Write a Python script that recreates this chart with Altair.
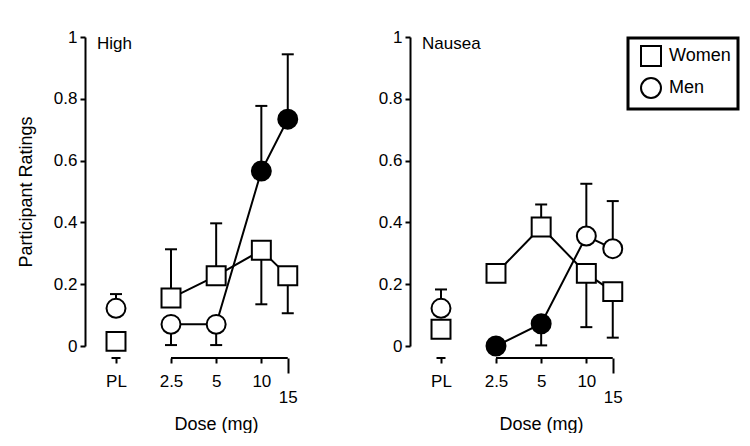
import altair as alt
import pandas as pd

FONT = "Liberation Sans"

# ---- data ----
dose_labels = ["PL", "2.5", "5", "10", "15"]
dose_pos = [1.075, 2.5, 5, 10, 15]          # PL drawn just left of the dose series
sexes = ["Women", "Men"]

high_women = [0.015, 0.155, 0.227, 0.31, 0.227]
high_women_err = [None, 0.313, 0.397, 0.135, 0.106]
high_women_sig = [False, False, False, False, False]
high_men = [0.122, 0.07, 0.07, 0.566, 0.734]
high_men_err = [0.168, 0.003, 0.003, 0.777, 0.944]
high_men_sig = [False, False, False, True, True]

nausea_women = [0.054, 0.235, 0.385, 0.235, 0.176]
nausea_women_err = [None, None, 0.458, 0.061, 0.027]
nausea_women_sig = [False, False, False, False, False]
nausea_men = [0.122, 0.0, 0.072, 0.356, 0.315]
nausea_men_err = [0.183, None, 0.002, 0.525, 0.469]
nausea_men_sig = [False, True, True, False, False]


def make_df(women, women_err, women_sig, men, men_err, men_sig):
    rows = []
    for sex, vals, errs, sigs in [("Women", women, women_err, women_sig),
                                  ("Men", men, men_err, men_sig)]:
        for lab, pos, v, e, s in zip(dose_labels, dose_pos, vals, errs, sigs):
            rows.append({"dose": pos, "label": lab, "sex": sex, "value": v,
                         "err": e, "sig": "sig" if s else "ns",
                         "segment": "PL" if lab == "PL" else "dose"})
    return pd.DataFrame(rows)


df_high = make_df(high_women, high_women_err, high_women_sig,
                  high_men, high_men_err, high_men_sig)
df_nausea = make_df(nausea_women, nausea_women_err, nausea_women_sig,
                    nausea_men, nausea_men_err, nausea_men_sig)

W, H = 215, 309
AX_OFF = 12

label_expr = " : ".join(f"datum.value == {p} ? '{l}'" for p, l in zip(dose_pos, dose_labels)) + " : ''"

xscale = alt.Scale(type="log", domain=[0.668, 18.1], nice=False)
yscale = alt.Scale(domain=[0, 1], nice=False, zero=False)


def panel(df, title, show_ytitle, show_legend):
    base = alt.Chart(df)
    x_axis = alt.Axis(
        values=dose_pos, labelExpr=label_expr, domain=False, offset=AX_OFF,
        grid=False, tickColor="black", tickWidth=2,
        tickSize={"condition": {"test": f"datum.value >= {dose_pos[-1]}", "value": 15}, "value": 5},
        labelPadding={"condition": {"test": f"datum.value >= {dose_pos[-1]}", "value": 16}, "value": 10},
        labelFont=FONT, labelFontSize=17, labelColor="black", labelFlush=False,
        labelOverlap=False,
        title="Dose (mg)", titleFont=FONT, titleFontSize=18, titleFontWeight="normal",
        titleColor="black", titleX=131, titlePadding=10)
    y_axis = alt.Axis(
        values=[0, 0.2, 0.4, 0.6, 0.8, 1], format="~g", grid=False,
        domainColor="black", domainWidth=2, tickColor="black", tickWidth=2, tickSize=5,
        labelFont=FONT, labelFontSize=17, labelColor="black", labelPadding=3,
        title="Participant Ratings" if show_ytitle else None,
        titleFont=FONT, titleFontSize=18, titleFontWeight="normal", titleColor="black",
        titlePadding=18)

    x = alt.X("dose:Q", scale=xscale, axis=x_axis)

    errs = base.transform_filter("isValid(datum.err)")
    err_bar = errs.mark_rule(color="black", strokeWidth=2).encode(
        x=x, y=alt.Y("value:Q", scale=yscale, axis=y_axis), y2="err:Q")
    err_cap = errs.mark_rule(color="black", strokeWidth=2, xOffset=-6, x2Offset=6).encode(
        x="dose:Q", x2="dose:Q", y="err:Q")

    lines = base.transform_filter("datum.segment == 'dose'").mark_line(
        color="black", strokeWidth=2).encode(
        x="dose:Q", y="value:Q", detail="sex:N")

    legend = alt.Legend(
        orient="none", legendX=218, legendY=1, title=None,
        symbolSize=400, symbolStrokeWidth=2, symbolFillColor="white",
        symbolStrokeColor="black", symbolOffset=5, labelFont=FONT, labelFontSize=18,
        labelColor="black", labelOffset=7, padding=7, rowPadding=4,
        strokeColor="black") if show_legend else None

    pts = base.mark_point(filled=True, stroke="black", strokeWidth=2, size=360, opacity=1).encode(
        x="dose:Q", y="value:Q",
        shape=alt.Shape("sex:N", scale=alt.Scale(domain=sexes, range=["square", "circle"]),
                        legend=legend),
        fill=alt.Fill("sig:N", scale=alt.Scale(domain=["sig", "ns"], range=["black", "white"]),
                      legend=None))

    axis_df = pd.DataFrame({"x": [dose_pos[1]], "x2": [dose_pos[-1]], "pl": [dose_pos[0]]})
    axis_line = alt.Chart(axis_df).mark_rule(color="black", strokeWidth=2).encode(
        x="x:Q", x2="x2:Q", y=alt.value(H + AX_OFF))
    pl_stub = alt.Chart(axis_df).mark_rule(color="black", strokeWidth=2,
                                           xOffset=-4.5, x2Offset=4.5).encode(
        x="pl:Q", x2="pl:Q", y=alt.value(H + AX_OFF))

    ttl = alt.Chart(pd.DataFrame({"t": [title]})).mark_text(
        align="left", baseline="middle", font=FONT, fontSize=17, color="black").encode(
        x=alt.value(12), y=alt.value(7), text="t:N")

    return alt.layer(err_bar, err_cap, lines, pts, axis_line, pl_stub, ttl).properties(
        width=W, height=H)


left = panel(df_high, "High", True, False)
right = panel(df_nausea, "Nausea", False, True)

chart = alt.hconcat(left, right, spacing=76).resolve_legend(shape="independent").properties(
    padding={"left": 9, "top": 20, "right": 0, "bottom": 0}
).configure_view(stroke=None).configure_legend(strokeWidth=3)

chart.save("out.html", embed_options={"renderer": "svg", "actions": False})
